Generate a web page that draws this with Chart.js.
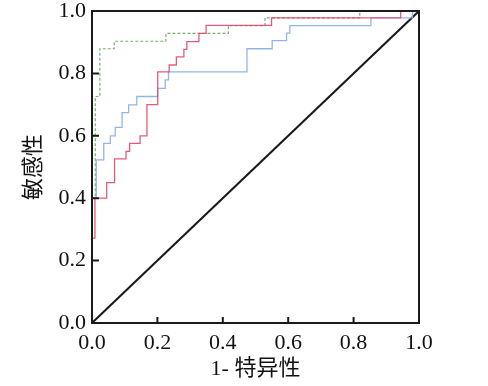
<!DOCTYPE html>
<html>
<head>
<meta charset="utf-8">
<script src="https://cdn.jsdelivr.net/npm/chart.js@4/dist/chart.umd.min.js"></script>
<style>
html,body{margin:0;padding:0;background:#fff;}
#wrap{width:488px;height:386px;}
</style>
</head>
<body>
<div id="wrap"><canvas id="c" width="488" height="386"></canvas></div>
<script>
// ---- data (ROC curve vertices) ----
const tickValues = [0, 0.2, 0.4, 0.6, 0.8, 1.0];

const redFpr = [0, 0, 0.009, 0.009, 0.045, 0.045, 0.069, 0.069, 0.104, 0.104, 0.115, 0.115, 0.147, 0.147, 0.168, 0.168, 0.201, 0.201, 0.236, 0.236, 0.258, 0.258, 0.281, 0.281, 0.29, 0.29, 0.327, 0.327, 0.349, 0.349, 0.549, 0.549, 0.944, 0.944, 1];
const redTpr = [0, 0.272, 0.272, 0.40, 0.40, 0.45, 0.45, 0.526, 0.526, 0.55, 0.55, 0.576, 0.576, 0.60, 0.60, 0.70, 0.70, 0.805, 0.805, 0.827, 0.827, 0.853, 0.853, 0.877, 0.877, 0.902, 0.902, 0.928, 0.928, 0.954, 0.954, 0.978, 0.978, 1, 1];

const greenFpr = [0, 0, 0.01, 0.01, 0.024, 0.024, 0.068, 0.068, 0.226, 0.226, 0.417, 0.417, 0.529, 0.529, 0.819, 0.819, 1];
const greenTpr = [0, 0.40, 0.40, 0.726, 0.726, 0.879, 0.879, 0.903, 0.903, 0.928, 0.928, 0.953, 0.953, 0.978, 0.978, 1, 1];

const blueFpr = [0, 0, 0.013, 0.013, 0.036, 0.036, 0.056, 0.056, 0.071, 0.071, 0.092, 0.092, 0.112, 0.112, 0.137, 0.137, 0.201, 0.201, 0.224, 0.224, 0.234, 0.234, 0.474, 0.474, 0.551, 0.551, 0.595, 0.595, 0.605, 0.605, 0.853, 0.853, 0.98, 0.98, 1];
const blueTpr = [0, 0.40, 0.40, 0.523, 0.523, 0.576, 0.576, 0.60, 0.60, 0.627, 0.627, 0.674, 0.674, 0.699, 0.699, 0.726, 0.726, 0.752, 0.752, 0.779, 0.779, 0.805, 0.805, 0.879, 0.879, 0.905, 0.905, 0.929, 0.929, 0.953, 0.953, 0.978, 0.978, 1, 1];

const diagFpr = [0, 1];
const diagTpr = [0, 1];

const xTitle = '1- 特异性';
const yTitle = '敏感性';

function pts(xs, ys){ return xs.map((x,i)=>({x:x, y:ys[i]})); }

const frameTicks = {
  id: 'frameTicks',
  afterDatasetsDraw(chart){
    const {ctx, chartArea:a, scales:{x, y}} = chart;
    ctx.save();
    ctx.strokeStyle = '#1a1a1a';
    ctx.lineWidth = 2;
    ctx.strokeRect(a.left, a.top, a.right - a.left, a.bottom - a.top);
    ctx.beginPath();
    x.ticks.forEach(t => {
      const px = x.getPixelForValue(t.value);
      ctx.moveTo(px, a.bottom); ctx.lineTo(px, a.bottom - 6);
    });
    y.ticks.forEach(t => {
      const py = y.getPixelForValue(t.value);
      ctx.moveTo(a.left, py); ctx.lineTo(a.left + 7, py);
    });
    ctx.stroke();
    ctx.restore();
  }
};

const tickFont = {family: "'Liberation Serif', 'DejaVu Serif', serif", size: 22};
const titleFont = {family: "'Liberation Serif', 'Noto Sans CJK SC', serif", size: 22};

new Chart(document.getElementById('c'), {
  type: 'line',
  data: {
    datasets: [
      {data: pts(redFpr, redTpr), borderColor: 'rgba(224,72,110,0.9)', borderWidth: 1.3, pointRadius: 0, fill: false, tension: 0},
      {data: pts(blueFpr, blueTpr), borderColor: 'rgba(140,178,230,0.95)', borderWidth: 1.3, pointRadius: 0, fill: false, tension: 0},
      {data: pts(greenFpr, greenTpr), borderColor: 'rgba(95,160,80,0.85)', borderWidth: 1.2, borderDash: [3, 2], pointRadius: 0, fill: false, tension: 0},
      {data: pts(diagFpr, diagTpr), borderColor: '#1a1a1a', borderWidth: 2, pointRadius: 0, fill: false, tension: 0}
    ]
  },
  options: {
    responsive: false,
    animation: false,
    layout: {padding: {left: 0, right: 69, top: 11, bottom: 0}},
    plugins: {legend: {display: false}, tooltip: {enabled: false}},
    scales: {
      x: {
        type: 'linear', min: 0, max: 1,
        afterBuildTicks(s){ s.ticks = tickValues.map(v => ({value: v})); },
        afterFit(s){ s.height = 63; s.paddingLeft = 0; s.paddingRight = 0; },
        grid: {display: false, drawTicks: false},
        border: {display: false},
        ticks: {color: '#111', font: tickFont, padding: 7, maxRotation: 0, callback: v => Number(v).toFixed(1)},
        title: {display: true, text: xTitle, color: '#111', font: titleFont, padding: {top: 0, bottom: 4}}
      },
      y: {
        type: 'linear', min: 0, max: 1,
        afterBuildTicks(s){ s.ticks = tickValues.map(v => ({value: v})); },
        afterFit(s){ s.width = 92; s.paddingTop = 0; s.paddingBottom = 0; },
        grid: {display: false, drawTicks: false},
        border: {display: false},
        ticks: {color: '#111', font: tickFont, padding: 6, callback: v => Number(v).toFixed(1)},
        title: {display: true, text: yTitle, color: '#111', font: titleFont, padding: {top: 21, bottom: 0}}
      }
    }
  },
  plugins: [frameTicks]
});
</script>
</body>
</html>
